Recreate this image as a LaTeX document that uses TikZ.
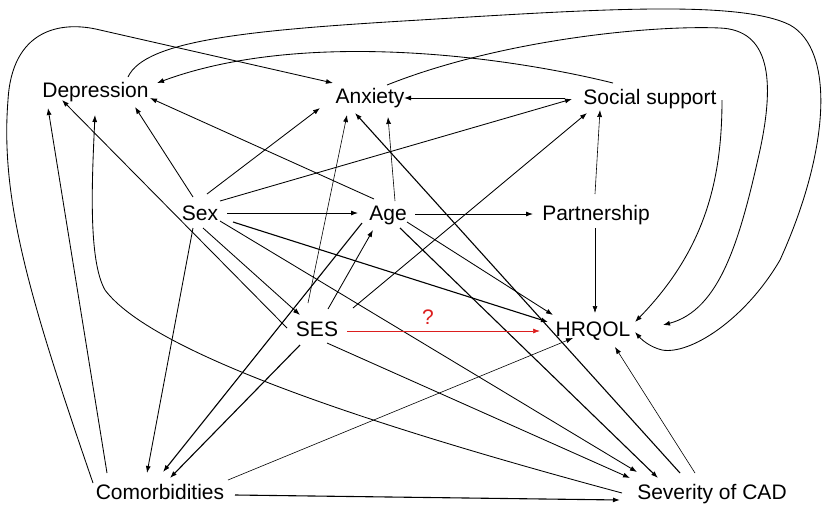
\documentclass[tikz,border=0pt]{standalone}
\usepackage{fontspec}
\setmainfont{Liberation Sans}
\usetikzlibrary{arrows.meta}
\definecolor{qred}{RGB}{220,30,30}
\begin{document}
\begin{tikzpicture}[x=1pt,y=-1pt,
  lab/.style={font=\fontsize{21}{25}\selectfont, inner sep=0pt, anchor=base},
  edge/.style={line width=0.85pt, -{Latex[length=7pt,width=5pt]}},
  thinedge/.style={edge, line width=0.6pt},
  thickedge/.style={edge, line width=1.1pt}]
\useasboundingbox (0,0) rectangle (823,504);
\node[lab] (D) at (95.5,97) {Depression};
\node[lab] (A) at (370,103) {Anxiety};
\node[lab] (S) at (650,104) {Social support};
\node[lab] (X) at (200,220) {Sex};
\node[lab] (G) at (388,220) {Age};
\node[lab] (P) at (596,220) {Partnership};
\node[lab] (E) at (317,336) {SES};
\node[lab] (H) at (593,336) {HRQOL};
\node[lab] (C) at (160,499) {Comorbidities};
\node[lab] (V) at (712,499) {Severity of CAD};
\node[lab, text=qred] (Q) at (428,324) {?};

% Sex
\draw[edge] ([shift={(27,-7)}]X.base) -- ([shift={(-30,-7)}]G.base);
\draw[edge] ([shift={(7,-26)}]X.base) -- ([shift={(-50,5)}]A.base);
\draw[edge] ([shift={(20,-19)}]X.base) -- ([shift={(-78,-5)}]S.base);
\draw[edge] ([shift={(-7,-23)}]X.base) -- ([shift={(39.5,10)}]D.base);
\draw[edge] ([shift={(3,8)}]X.base) -- ([shift={(-17,-21)}]E.base);
\draw[edge] ([shift={(-7,8)}]X.base) -- ([shift={(-13,-26)}]C.base);
\draw[thickedge] ([shift={(33,2)}]X.base) -- ([shift={(-45,-14)}]H.base);
\draw[edge] ([shift={(20,1)}]X.base) -- ([shift={(-75,-27)}]V.base);
% Age
\draw[edge] ([shift={(27,-6)}]G.base) -- ([shift={(-63,-6)}]P.base);
\draw[thinedge] ([shift={(7,-19)}]G.base) -- ([shift={(18,14)}]A.base);
\draw[edge] ([shift={(-14,-21)}]G.base) -- ([shift={(54.5,1)}]D.base);
\draw[edge] ([shift={(19,2)}]G.base) -- ([shift={(-40,-21)}]H.base);
\draw[thickedge] ([shift={(12,8)}]G.base) -- ([shift={(-54,-21)}]V.base);
\draw[thickedge] ([shift={(-26,3)}]G.base) -- ([shift={(3,-27)}]C.base);
% SES
\draw[edge] ([shift={(11,-27)}]E.base) -- ([shift={(-15,10)}]G.base);
\draw[thinedge] ([shift={(-9,-33)}]E.base) -- ([shift={(-23,12)}]A.base);
\draw[edge] ([shift={(36,-28)}]E.base) -- ([shift={(-63,9)}]S.base);
\draw[edge] ([shift={(-30,-8)}]E.base) -- ([shift={(-33.5,3)}]D.base);
\draw[thickedge] ([shift={(-17,9)}]E.base) -- ([shift={(10,-21)}]C.base);
\draw[edge] ([shift={(10,7)}]E.base) -- ([shift={(-82,-21)}]V.base);
\draw[edge, qred, line width=0.7pt] ([shift={(30,-5)}]E.base) -- ([shift={(-53,-5)}]H.base);
% Partnership
\draw[thinedge] ([shift={(-1,-26)}]P.base) -- ([shift={(-50,6)}]S.base);
\draw[thinedge] ([shift={(-1,8)}]P.base) -- ([shift={(2,-23)}]H.base);
% Social support
\draw[edge] ([shift={(-85,-6)}]S.base) -- ([shift={(34,-5)}]A.base);
\draw[edge] ([shift={(-37,-21)}]S.base) .. controls (500,55) and (300,30) .. ([shift={(61.5,-14)}]D.base);
\draw[edge] ([shift={(72,-4)}]S.base) .. controls (722,180) and (705,250) .. ([shift={(42,-14)}]H.base);
% Comorbidities
\draw[edge] ([shift={(-53,-26)}]C.base) -- ([shift={(-47.5,11)}]D.base);
\draw[thinedge] ([shift={(68,-19)}]C.base) -- ([shift={(-20,2)}]H.base);
\draw[thickedge] ([shift={(75,-4)}]C.base) -- ([shift={(-92,1)}]V.base);
\draw[edge] ([shift={(-67,-16)}]C.base) .. controls (30,300) and (0,200) .. (8,100)
  .. controls (12,30) and (60,20) .. (100,30) -- ([shift={(-37,-20)}]A.base);
% Severity
\draw[thinedge] ([shift={(-17,-26)}]V.base) -- ([shift={(22,11)}]H.base);
\draw[thickedge] ([shift={(-32,-26)}]V.base) -- ([shift={(-15,10)}]A.base);
\draw[edge] ([shift={(-90,-6)}]V.base) .. controls (350,420) and (150,350) .. (105,290)
  .. controls (88,260) and (92,180) .. ([shift={(-0.5,18)}]D.base);
% Depression / Anxiety to HRQOL
\draw[edge] ([shift={(32.5,-20)}]D.base) .. controls (145,40) and (250,30) .. (420,20)
  .. controls (600,9) and (740,0) .. (790,25)
  .. controls (835,50) and (830,150) .. (780,260)
  .. controls (745,320) and (690,355) .. (662,350)
  .. controls (650,347) and (642,340) .. ([shift={(42,-4)}]H.base);
\draw[edge] ([shift={(17,-18)}]A.base) .. controls (500,40) and (650,25) .. (720,28)
  .. controls (770,30) and (775,80) .. (760,150)
  .. controls (740,240) and (720,310) .. ([shift={(70,-11)}]H.base);
\end{tikzpicture}
\end{document}
